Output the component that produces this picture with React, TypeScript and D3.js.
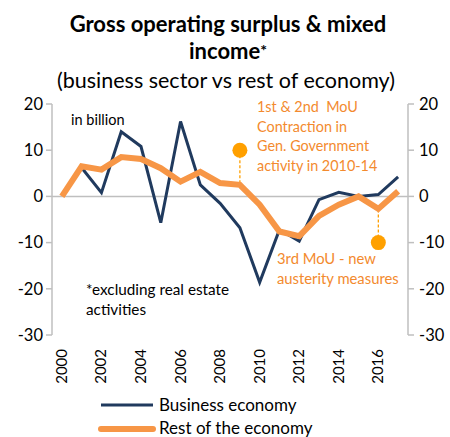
import React from "react";
import * as d3 from "d3";

const years = d3.range(2000, 2018).map(String);
const business: (number | null)[] = [null, 6.2, 0.8, 14.0, 10.8, -5.7, 16.2, 2.5, -1.5, -6.8, -18.6, -7.2, -9.7, -0.7, 0.9, 0.0, 0.4, 4.2];
const rest: number[] = [0.0, 6.5, 5.8, 8.5, 8.1, 6.1, 3.2, 5.3, 2.9, 2.5, -1.8, -7.6, -8.6, -4.2, -1.8, 0.0, -2.7, 1.1];
const yTicks = [20, 10, 0, -10, -20, -30];
const xTickLabels = ["2000", "2002", "2004", "2006", "2008", "2010", "2012", "2014", "2016"];
const annotations = [
  { year: "2009", dotValue: 10 },
  { year: "2016", dotValue: -10 },
];
const note1 = ["1st & 2nd  MoU", "Contraction in", "Gen. Government", "activity in 2010-14"];
const note2 = ["3rd MoU - new", "austerity measures"];
const footnote = ["*excluding real estate", "activities"];

const W = 450, H = 437;
const left = 52, right = 408, top = 104, bottom = 335;
const FONT = "Lato, 'Open Sans', sans-serif";
const NAVY = "#203A5E";
const ORANGE = "#F79646";
const DOT = "#FFA000";
const TXT_OR = "#F38A2E";
const AX = "#BFBFBF";

export default function App() {
  const x = d3.scalePoint<string>().domain(years).range([left, right]).padding(0.5);
  const y = d3.scaleLinear().domain([-30, 20]).range([bottom, top]);
  const lineB = d3.line<number | null>()
    .defined((d) => d !== null)
    .x((_, i) => x(years[i])!)
    .y((d) => y(d as number));
  const lineR = d3.line<number>().x((_, i) => x(years[i])!).y((d) => y(d));

  return (
    <svg width={W} height={H} style={{ position: "absolute", left: 0, top: 0, background: "#fff" }} fontFamily={FONT}>
      <text x={228} y={32} textAnchor="middle" fontSize={22} fontWeight="bold" fill="#000">Gross operating surplus &amp; mixed</text>
      <text x={228} y={59} textAnchor="middle" fontSize={22} fontWeight="bold" fill="#000">income<tspan fontSize={16} dy={-3}>*</tspan></text>
      <text x={226} y={88} textAnchor="middle" fontSize={21.5} fill="#000">(business sector vs rest of economy)</text>

      {/* axes */}
      <line x1={left} x2={left} y1={top} y2={bottom} stroke={AX} strokeWidth={1.5} />
      <line x1={right} x2={right} y1={top} y2={bottom} stroke={AX} strokeWidth={1.5} />
      {yTicks.map((t) => (
        <g key={t}>
          <line x1={left - 6} x2={left} y1={y(t)} y2={y(t)} stroke={AX} strokeWidth={1.5} />
          <line x1={right} x2={right + 6} y1={y(t)} y2={y(t)} stroke={AX} strokeWidth={1.5} />
          <text x={left - 9} y={y(t)} dy="0.35em" textAnchor="end" fontSize={16.5} fill="#000">{t}</text>
          <text x={right + 11} y={y(t)} dy="0.35em" textAnchor="start" fontSize={16.5} fill="#000">{t}</text>
        </g>
      ))}
      <line x1={left} x2={right} y1={y(0)} y2={y(0)} stroke={AX} strokeWidth={1.5} />

      {xTickLabels.map((l) => (
        <text key={l} transform={`translate(${x(l)! + 5},${bottom + 14}) rotate(-90)`} textAnchor="end" fontSize={15} fill="#000">{l}</text>
      ))}

      {/* annotations dashed */}
      {annotations.map((a) => {
        const i = years.indexOf(a.year);
        return (
          <g key={a.year}>
            <line x1={x(a.year)} x2={x(a.year)} y1={y(a.dotValue)} y2={y(rest[i])} stroke={DOT} strokeWidth={1.3} strokeDasharray="3,2" />
          </g>
        );
      })}

      <path d={lineB(business) || ""} fill="none" stroke={NAVY} strokeWidth={3} strokeLinejoin="miter" />
      <path d={lineR(rest) || ""} fill="none" stroke={ORANGE} strokeWidth={6} strokeLinejoin="miter" />

      {annotations.map((a) => (
        <circle key={a.year} cx={x(a.year)} cy={y(a.dotValue)} r={7.5} fill={DOT} />
      ))}

      {note1.map((s, i) => (
        <text key={s} x={257} y={112 + i * 19.5} fontSize={14.4} fill={TXT_OR} style={{ whiteSpace: "pre" }}>{s}</text>
      ))}
      {note2.map((s, i) => (
        <text key={s} x={277} y={264 + i * 19.5} fontSize={14.8} fill={TXT_OR}>{s}</text>
      ))}
      <text x={71} y={125} fontSize={14.5} fill="#000">in billion</text>
      {footnote.map((s, i) => (
        <text key={s} x={86} y={295 + i * 19.5} fontSize={15.3} fill="#000">{s}</text>
      ))}

      {/* legend */}
      <line x1={101} x2={153} y1={405} y2={405} stroke={NAVY} strokeWidth={3} />
      <text x={159} y={411} fontSize={17} fill="#000">Business economy</text>
      <line x1={101} x2={153} y1={429} y2={429} stroke={ORANGE} strokeWidth={6} strokeLinecap="round" />
      <text x={159} y={434} fontSize={17} fill="#000">Rest of the economy</text>
    </svg>
  );
}
